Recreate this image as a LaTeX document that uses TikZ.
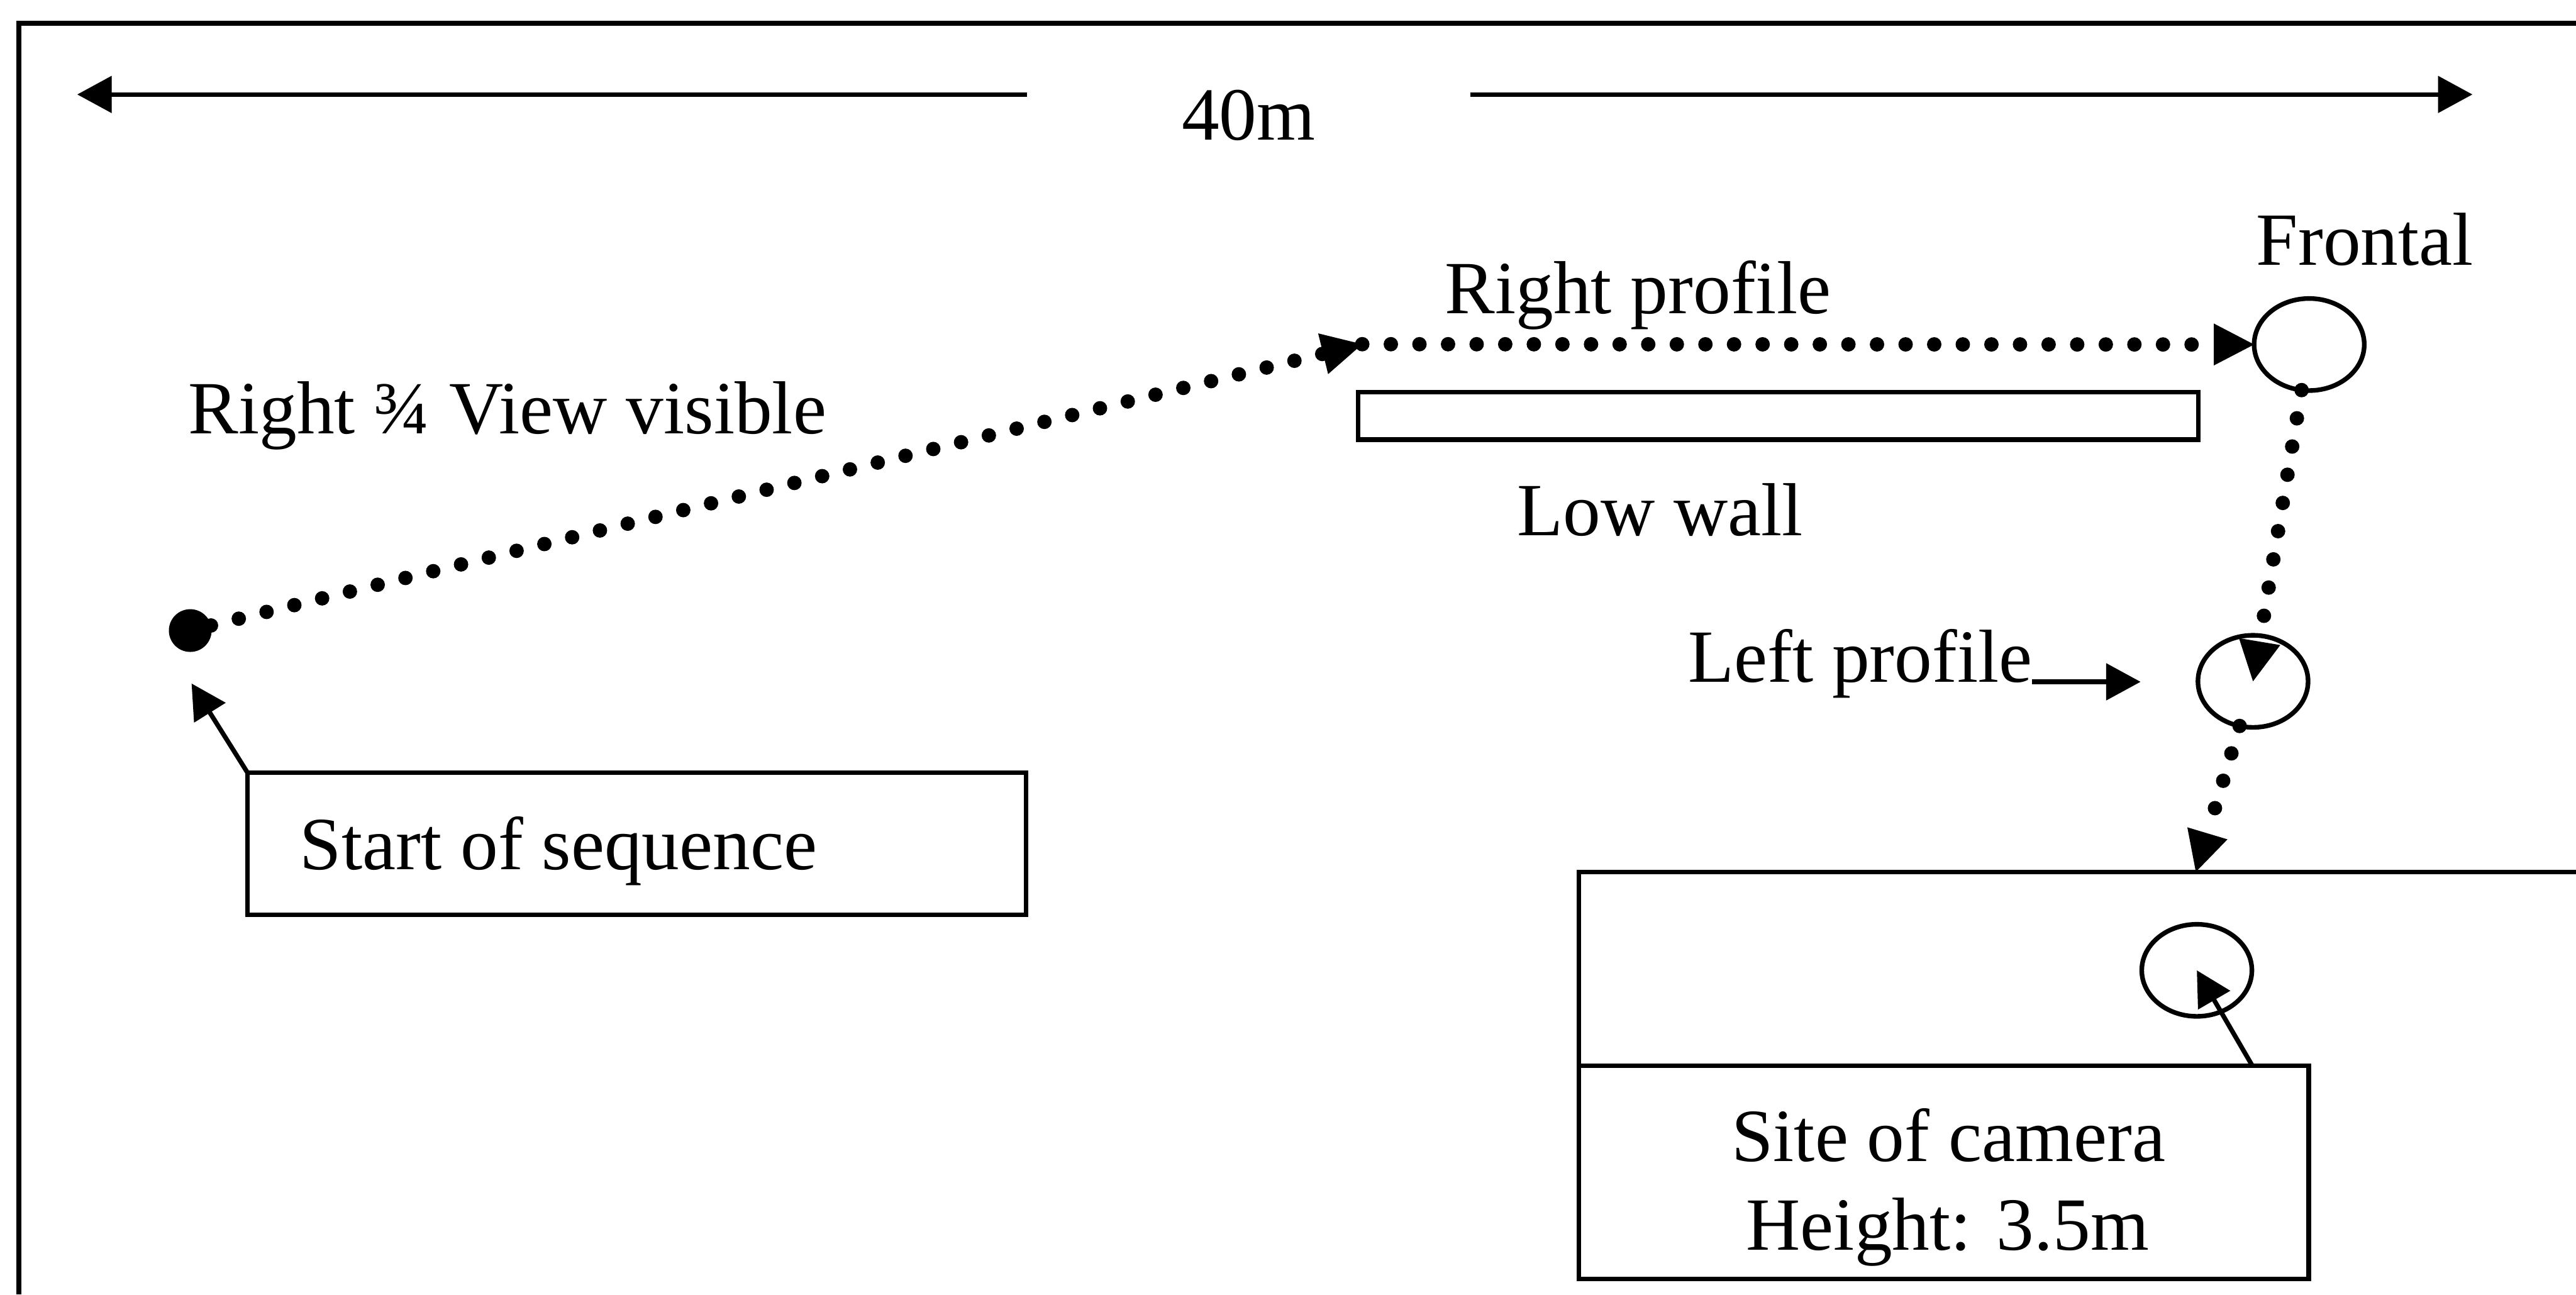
\documentclass[tikz,border=0pt]{standalone}
\usepackage{fontspec}
\setmainfont{Liberation Serif}
\usetikzlibrary{arrows.meta,shapes.geometric}
\begin{document}
\begin{tikzpicture}[x=0.01cm,y=-0.01cm,
  every node/.style={font=\fontsize{13pt}{15.3pt}\selectfont, inner sep=0pt, outer sep=0pt},
  thinline/.style={line width=0.8pt},
  frameline/.style={line width=0.95pt},
  boxnode/.style={draw, thinline, rectangle, anchor=north west},
  figure/.style={draw, thinline, ellipse, minimum width=0.67cm, minimum height=0.56cm},
  solidarrow/.style={thinline, -{Triangle[length=2.1mm,width=2.2mm]}},
  dotarrow/.style={line width=2.5pt, line cap=round, dash pattern=on 0pt off 4.95pt,
    -{Triangle[length=2.45mm,width=2.55mm,line width=0pt]}},
  txt/.style={anchor=base}
]
\useasboundingbox (0,0) rectangle (1568,788);

% outer frame (only its top and left sides fall inside the picture)
\draw[frameline] (1568,14.2) -- (11.5,14.2) -- (11.5,788);

% 40 m dimension
\node[txt] (dim) at (760,85.3) {40m};
\coordinate (dimLa) at (625,57.5);
\coordinate (dimLb) at (47,57.5);
\coordinate (dimRa) at (895,57.5);
\coordinate (dimRb) at (1505,57.5);
\draw[solidarrow] (dimLa) -- (dimLb);
\draw[solidarrow] (dimRa) -- (dimRb);

% start point and its caption box
\node[circle, fill, minimum size=0.26cm] (startdot) at (115.8,383.8) {};
\node[boxnode, minimum width=4.738cm, minimum height=0.866cm] (startbox) at (150.6,470.2) {};
\node[txt] (starttxt) at (340,529.4) {Start of sequence};
\coordinate (starttip) at (116.6,416);
\draw[solidarrow] (startbox.north west) -- (starttip);

% low wall
\node[boxnode, minimum width=5.111cm, minimum height=0.288cm] (wall) at (826.7,238.8) {};
\node[txt] (walltxt) at (1010.5,326) {Low wall};

% positions of the walker
\node[figure] (frontal) at (1405.6,209.7) {};
\node[figure] (lprof) at (1371.4,414.7) {};
\node[txt] (frontaltxt) at (1439.5,161.4) {Frontal};
\node[txt] (rproftxt) at (997,191) {Right profile};
\node[txt] (r34txt) at (308.9,264) {Right ¾ View visible};
\node[txt, anchor=base east] (lproftxt) at (1237,415) {Left profile};
\coordinate (lproftip) at (1303,415);
\draw[solidarrow] (lproftxt.base east) -- (lproftip);

% camera site
\draw[thinline] (1568,530.7) -- (961,530.7) -- (961,648.7);
\node[boxnode, minimum width=4.44cm, minimum height=1.296cm] (sitebox) at (961,648.7) {};
\node[txt] (sitetxt1) at (1186,707) {Site of camera};
\node[txt] (sitetxt2) at (1185.5,760.7) {Height: 3.5m};
\node[figure] (camera) at (1337.2,590.6) {};
\coordinate (camfoot) at (1371,648.7);
\draw[solidarrow] (camfoot) -- (camera.center);

% walking path
\coordinate (turn) at (829.2,209.5);
\coordinate (sitetip) at (1336.6,530.7);
\draw[dotarrow] (startdot) -- (turn);
\draw[dotarrow] (turn) -- (frontal);
\draw[dotarrow] (frontal) -- (lprof.center);
\draw[dotarrow] (lprof) -- (sitetip);
\end{tikzpicture}
\end{document}
